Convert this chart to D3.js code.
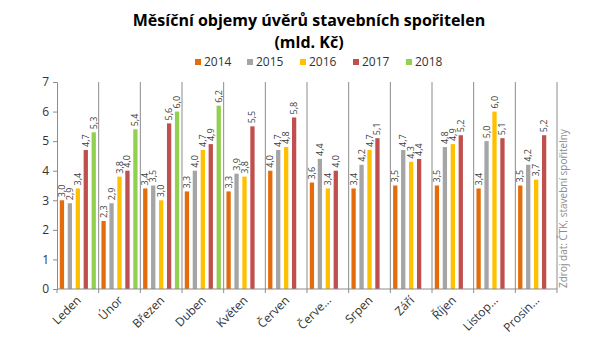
<!DOCTYPE html>
<html>
<head>
<meta charset="utf-8">
<script src="https://cdn.jsdelivr.net/npm/d3@7"></script>
<style>
  body { margin: 0; background: #fff; }
  text { font-family: "Open Sans", "DejaVu Sans", sans-serif; }
</style>
</head>
<body>
<div id="chart"></div>
<script>
// data
var months = ['Leden', 'Únor', 'Březen', 'Duben', 'Květen', 'Červen', 'Červenec', 'Srpen', 'Září', 'Říjen', 'Listopad', 'Prosinec'];
var monthLabels = ['Leden', 'Únor', 'Březen', 'Duben', 'Květen', 'Červen', 'Červe…', 'Srpen', 'Září', 'Říjen', 'Listop…', 'Prosin…'];
var years = ['2014', '2015', '2016', '2017', '2018'];
var v2014 = [3.0, 2.3, 3.4, 3.3, 3.3, 4.0, 3.6, 3.4, 3.5, 3.5, 3.4, 3.5];
var v2015 = [2.9, 2.9, 3.5, 4.0, 3.9, 4.7, 4.4, 4.2, 4.7, 4.8, 5.0, 4.2];
var v2016 = [3.4, 3.8, 3.0, 4.7, 3.8, 4.8, 3.4, 4.7, 4.3, 4.9, 6.0, 3.7];
var v2017 = [4.7, 4.0, 5.6, 4.9, 5.5, 5.8, 4.0, 5.1, 4.4, 5.2, 5.1, 5.2];
var v2018 = [5.3, 5.4, 6.0, 6.2];
var colors = ['#E46C0A', '#A5A5A5', '#FFC000', '#C0504D', '#92D050'];
var yTicks = [0, 1, 2, 3, 4, 5, 6, 7];

var series = [v2014, v2015, v2016, v2017, v2018];

var svgWidth = 600, svgHeight = 338;
var margin = {top: 82, right: 43, bottom: 49, left: 57};
var width = svgWidth - margin.left - margin.right;
var height = svgHeight - margin.top - margin.bottom;

var svg = d3.select('#chart').append('svg')
  .attr('width', svgWidth)
  .attr('height', svgHeight);

// title
svg.append('text')
  .attr('x', 309).attr('y', 26)
  .attr('text-anchor', 'middle')
  .attr('font-size', '16px').attr('font-weight', 'bold').attr('fill', '#000')
  .text('Měsíční objemy úvěrů stavebních spořitelen');
svg.append('text')
  .attr('x', 309).attr('y', 48)
  .attr('text-anchor', 'middle')
  .attr('font-size', '16px').attr('font-weight', 'bold').attr('fill', '#000')
  .text('(mld. Kč)');

// legend
var legendX = [195, 247, 300, 353, 406];
var legend = svg.selectAll('.legend')
  .data(years)
  .enter()
  .append('g')
  .attr('transform', (d, i) => `translate(${legendX[i]}, 66)`);
legend.append('rect')
  .attr('x', 0).attr('y', -7).attr('width', 6).attr('height', 6)
  .attr('fill', (d, i) => colors[i]);
legend.append('text')
  .attr('x', 9).attr('y', 0)
  .attr('font-size', '12px').attr('fill', '#333')
  .text(d => d);

var chartGroup = svg.append('g')
  .attr('transform', `translate(${margin.left}, ${margin.top})`);

var x0 = d3.scaleBand().domain(months).range([0, width]);
var x1 = d3.scaleBand().domain(years).range([0, x0.bandwidth()]).paddingInner(0.46).paddingOuter(0.35);
var y = d3.scaleLinear().domain([0, 7]).range([height, 0]);

// vertical separators
chartGroup.selectAll('.sep')
  .data(months.slice(1).concat(['end']))
  .enter()
  .append('line')
  .attr('x1', (d, i) => x0.step() * (i + 1))
  .attr('x2', (d, i) => x0.step() * (i + 1))
  .attr('y1', 0).attr('y2', height)
  .attr('stroke', '#8c8c8c').attr('stroke-width', 1);

// bars
series.forEach(function(vals, s) {
  var g = chartGroup.append('g');
  var data = vals.map((v, i) => ({month: months[i], value: v}));
  g.selectAll('rect')
    .data(data)
    .enter()
    .append('rect')
    .attr('x', d => x0(d.month) + x1(years[s]))
    .attr('y', d => y(d.value))
    .attr('width', x1.bandwidth())
    .attr('height', d => height - y(d.value))
    .attr('fill', colors[s]);
  g.selectAll('text')
    .data(data)
    .enter()
    .append('text')
    .attr('transform', d => `translate(${x0(d.month) + x1(years[s]) + x1.bandwidth() / 2 + 3}, ${y(d.value) - 3}) rotate(-90)`)
    .attr('font-size', '9px').attr('fill', '#404040')
    .text(d => d3.format('.1f')(d.value).replace('.', ','));
});

// y axis
var leftAxis = d3.axisLeft(y).tickValues(yTicks).tickSize(4).tickFormat(d => d);
var yAxis = chartGroup.append('g').call(leftAxis);
yAxis.select('.domain').attr('stroke', '#8c8c8c');
yAxis.selectAll('.tick line').attr('stroke', '#8c8c8c');
yAxis.selectAll('.tick text').attr('font-size', '12px').attr('fill', '#333').attr('x', -8)
  .style('font-family', '"Open Sans", sans-serif');

// x axis
var xAxis = chartGroup.append('g').attr('transform', `translate(0, ${height})`);
xAxis.append('line')
  .attr('x1', 0).attr('x2', width).attr('y1', 0).attr('y2', 0)
  .attr('stroke', '#8c8c8c');
xAxis.selectAll('.xtick')
  .data(d3.range(months.length + 1))
  .enter()
  .append('line')
  .attr('x1', d => d * x0.step()).attr('x2', d => d * x0.step())
  .attr('y1', 0).attr('y2', 4)
  .attr('stroke', '#8c8c8c');
xAxis.selectAll('.xlabel')
  .data(months)
  .enter()
  .append('text')
  .attr('transform', d => `translate(${x0(d) + x0.bandwidth() / 2 + 4}, 12) rotate(-45)`)
  .attr('text-anchor', 'end')
  .attr('font-size', '12px').attr('fill', '#333')
  .text((d, i) => monthLabels[i]);

// source
svg.append('text')
  .attr('transform', 'translate(567, 288) rotate(-90)')
  .attr('font-size', '10px').attr('fill', '#8c8c8c')
  .text('Zdroj dat: ČTK, stavební spořitelny');
</script>
</body>
</html>
